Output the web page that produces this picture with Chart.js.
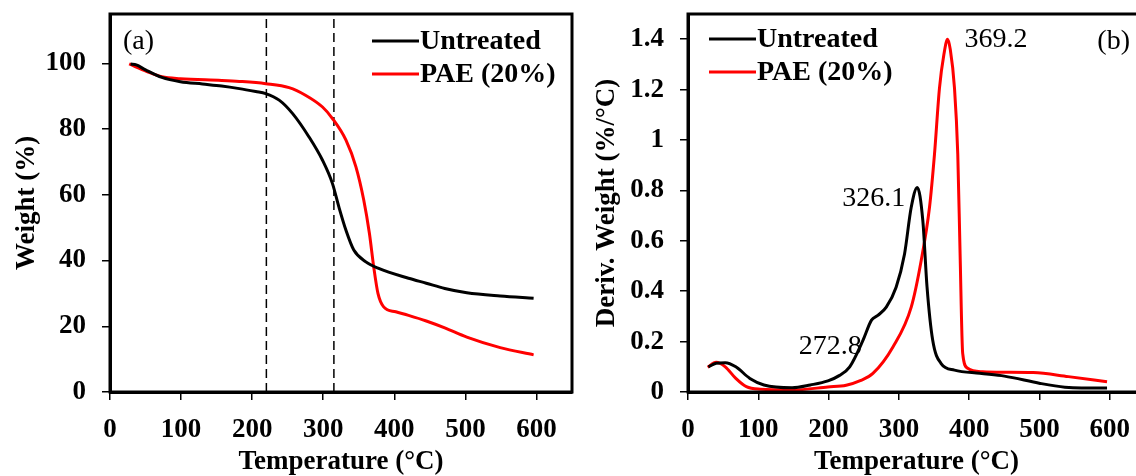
<!DOCTYPE html>
<html>
<head>
<meta charset="utf-8">
<script src="https://cdn.jsdelivr.net/npm/chart.js@4.4.1/dist/chart.umd.min.js"></script>
<style>
    html, body { margin: 0; padding: 0; background: #fff; overflow: hidden; width: 1136px; height: 476px; }
    .panel { position: absolute; top: 0; height: 476px; }
    #panelA { left: 0; width: 580px; }
    #panelB { left: 580px; width: 575px; }
</style>
</head>
<body>
<div class="panel" id="panelA"><canvas id="tgaChart"></canvas></div>
<div class="panel" id="panelB"><canvas id="dtgChart"></canvas></div>
<script>
// --- Data (a): TGA weight curves ---
const tgaTempUntreated = [29, 37, 50, 73, 99, 130, 157, 182, 205, 219, 238, 257, 280, 299, 313, 322, 332, 343, 360, 378, 420, 445, 471, 502, 549, 596];
const tgaUntreated     = [99.8, 99.5, 98.0, 95.7, 94.4, 93.7, 93.1, 92.3, 91.4, 90.8, 88.8, 84.7, 77.6, 70.5, 63.4, 56.3, 49.2, 43.2, 39.6, 37.6, 34.6, 33.1, 31.5, 30.2, 29.2, 28.5];
const tgaTempPAE = [27, 52, 73, 99, 157, 182, 219, 252, 275, 299, 313, 332, 346, 357, 365, 371, 377, 385, 402, 420, 445, 471, 502, 549, 596];
const tgaPAE     = [99.8, 97.5, 95.9, 95.3, 94.8, 94.5, 93.8, 92.6, 90.3, 86.7, 83.2, 76.6, 68.5, 58.4, 48.2, 38.1, 30.0, 25.9, 24.4, 23.3, 21.6, 19.5, 16.7, 13.5, 11.3];
const onsetTemps = [220, 315];

// --- Data (b): DTG derivative curves ---
const dtgTempUntreated = [29, 40, 53, 68, 88, 108, 148, 174, 199, 215, 230, 249, 261, 270, 282, 296, 308, 317.5, 326.1, 334, 340, 348, 360, 379, 415, 450, 501, 536, 560, 596];
const dtgUntreated     = [0.100, 0.114, 0.116, 0.100, 0.054, 0.028, 0.017, 0.028, 0.044, 0.065, 0.100, 0.206, 0.285, 0.304, 0.337, 0.416, 0.548, 0.733, 0.812, 0.680, 0.416, 0.206, 0.113, 0.087, 0.074, 0.063, 0.034, 0.019, 0.016, 0.016];
const dtgTempPAE = [28, 40, 53, 68, 83, 103, 148, 199, 225, 245, 263, 291.5, 317.5, 331.7, 343.5, 350.6, 357.7, 364, 369.2, 373, 379, 383.7, 387, 390.7, 397.8, 419, 450, 491, 541, 596];
const dtgPAE     = [0.098, 0.118, 0.100, 0.054, 0.021, 0.011, 0.008, 0.020, 0.027, 0.045, 0.074, 0.179, 0.337, 0.522, 0.733, 0.944, 1.207, 1.340, 1.400, 1.360, 1.207, 0.944, 0.548, 0.153, 0.094, 0.080, 0.078, 0.077, 0.061, 0.041];
const peakLabels = ['369.2', '326.1', '272.8'];
const peakTemps  = [369.2, 326.1, 272.8];
const peakValues = [1.400, 0.812, 0.300];

// --- Tick labels ---
const xTicks = [0, 100, 200, 300, 400, 500, 600];
const yTicksA = [0, 20, 40, 60, 80, 100];
const yTicksB = [0, 0.2, 0.4, 0.6, 0.8, 1, 1.2, 1.4];

const seriesNames = ['Untreated', 'PAE (20%)'];
const BLACK = '#000000';
const RED = '#ff0000';
const SERIF = "'Liberation Serif', 'Times New Roman', serif";

const toXY = (xs, ys) => xs.map((x, i) => ({ x: x, y: ys[i] }));

// frame, legend and text notes drawn on top of the chart area
const decorPlugin = {
    id: 'decor',
    afterDatasetsDraw(chart, args, opts) {
        const ctx = chart.ctx;
        const a = chart.chartArea;
        ctx.save();
        // box frame
        ctx.strokeStyle = BLACK;
        ctx.lineWidth = 3;
        ctx.strokeRect(a.left, a.top, a.right - a.left, a.bottom - a.top);

        // legend
        ctx.font = 'bold 28px ' + SERIF;
        ctx.textBaseline = 'middle';
        ctx.textAlign = 'left';
        let row = 0;
        chart.data.datasets.forEach(ds => {
            if (!ds.label) return;
            const y = opts.legendY + row * 33;
            const x = a.left + opts.legendX;
            ctx.strokeStyle = ds.borderColor;
            ctx.lineWidth = 3;
            ctx.beginPath();
            ctx.moveTo(x, y);
            ctx.lineTo(x + 47, y);
            ctx.stroke();
            ctx.fillStyle = BLACK;
            ctx.fillText(ds.label, x + 48, y + 1);
            row++;
        });

        // panel tag
        ctx.font = '28px ' + SERIF;
        ctx.fillStyle = BLACK;
        ctx.textAlign = opts.tagAlign;
        ctx.fillText(opts.tag, opts.tagAlign === 'left' ? a.left + 13 : a.right - 15, a.top + 28);

        // peak notes
        (opts.notes || []).forEach(n => {
            const px = chart.scales.x.getPixelForValue(n.x);
            const py = chart.scales.y.getPixelForValue(n.y);
            ctx.textAlign = n.align;
            ctx.fillText(n.text, px + n.dx, py + n.dy);
        });
        ctx.restore();
    }
};

function xScale() {
    return {
        type: 'linear',
        min: 0,
        max: 650,
        afterBuildTicks: s => { s.ticks = xTicks.map(v => ({ value: v })); },
        afterFit: s => { s.height = 84; s.paddingLeft = 0; s.paddingRight = 0; },
        border: { display: true, color: BLACK, width: 3 },
        grid: { display: true, drawOnChartArea: false, drawTicks: true, tickLength: 8, color: BLACK, lineWidth: 1.5 },
        ticks: { color: BLACK, padding: 14, font: { family: SERIF, size: 27, weight: 'bold' }, maxRotation: 0 },
        title: { display: true, text: 'Temperature (°C)', color: BLACK, padding: { top: 0, bottom: 0 },
                 font: { family: SERIF, size: 27, weight: 'bold', lineHeight: 1.0 } }
    };
}

function yScale(max, tickVals, width, title) {
    return {
        type: 'linear',
        min: 0,
        max: max,
        afterBuildTicks: s => { s.ticks = tickVals.map(v => ({ value: v })); },
        afterFit: s => { s.width = width; s.paddingTop = 0; s.paddingBottom = 0; },
        border: { display: true, color: BLACK, width: 3 },
        grid: { display: true, drawOnChartArea: false, drawTicks: true, tickLength: 8, color: BLACK, lineWidth: 1.5 },
        ticks: { color: BLACK, padding: 16, font: { family: SERIF, size: 27, weight: 'bold' },
                 callback: v => String(Math.round(v * 10) / 10) },
        title: { display: true, text: title, color: BLACK, padding: { top: 0, bottom: 0 },
                 font: { family: SERIF, size: 27, weight: 'bold', lineHeight: 2.0 } }
    };
}

function curve(label, xs, ys, color) {
    return {
        label: label,
        data: toXY(xs, ys),
        borderColor: color,
        backgroundColor: color,
        borderWidth: 3,
        pointRadius: 0,
        cubicInterpolationMode: 'monotone',
        fill: false
    };
}

const baseOptions = {
    responsive: true,
    maintainAspectRatio: false,
    animation: false,
    plugins: { legend: { display: false }, tooltip: { enabled: false } }
};

// 1. TGA chart (a)
const onsetLines = onsetTemps.map(t => ({
    data: [{ x: t, y: 0 }, { x: t, y: 115 }],
    borderColor: BLACK,
    borderWidth: 1.5,
    borderDash: [9, 5],
    pointRadius: 0
}));

new Chart(document.getElementById('tgaChart'), {
    type: 'line',
    data: {
        datasets: [
            curve(seriesNames[0], tgaTempUntreated, tgaUntreated, BLACK),
            curve(seriesNames[1], tgaTempPAE, tgaPAE, RED),
            ...onsetLines
        ]
    },
    options: {
        ...baseOptions,
        layout: { padding: { top: 14, right: 8, left: 0, bottom: 0 } },
        scales: { x: xScale(), y: yScale(115, yTicksA, 110, 'Weight (%)') },
        plugins: { ...baseOptions.plugins, decor: { legendX: 262, legendY: 41, tag: '(a)', tagAlign: 'left' } }
    },
    plugins: [decorPlugin]
});

// 2. DTG chart (b)
const noteOffsets = [{ dx: 17, dy: 0, align: 'left' }, { dx: -12, dy: 11, align: 'right' }, { dx: -18, dy: 30, align: 'right' }];
const notes = peakLabels.map((t, i) => ({ text: t, x: peakTemps[i], y: peakValues[i], ...noteOffsets[i] }));

new Chart(document.getElementById('dtgChart'), {
    type: 'line',
    data: {
        datasets: [
            curve(seriesNames[0], dtgTempUntreated, dtgUntreated, BLACK),
            curve(seriesNames[1], dtgTempPAE, dtgPAE, RED)
        ]
    },
    options: {
        ...baseOptions,
        layout: { padding: { top: 14, right: 10, left: 0, bottom: 0 } },
        scales: { x: xScale(), y: yScale(1.5, yTicksB, 108, 'Deriv. Weight (%/°C)') },
        plugins: { ...baseOptions.plugins, decor: { legendX: 21, legendY: 39, tag: '(b)', tagAlign: 'right', notes: notes } }
    },
    plugins: [decorPlugin]
});
</script>
</body>
</html>
